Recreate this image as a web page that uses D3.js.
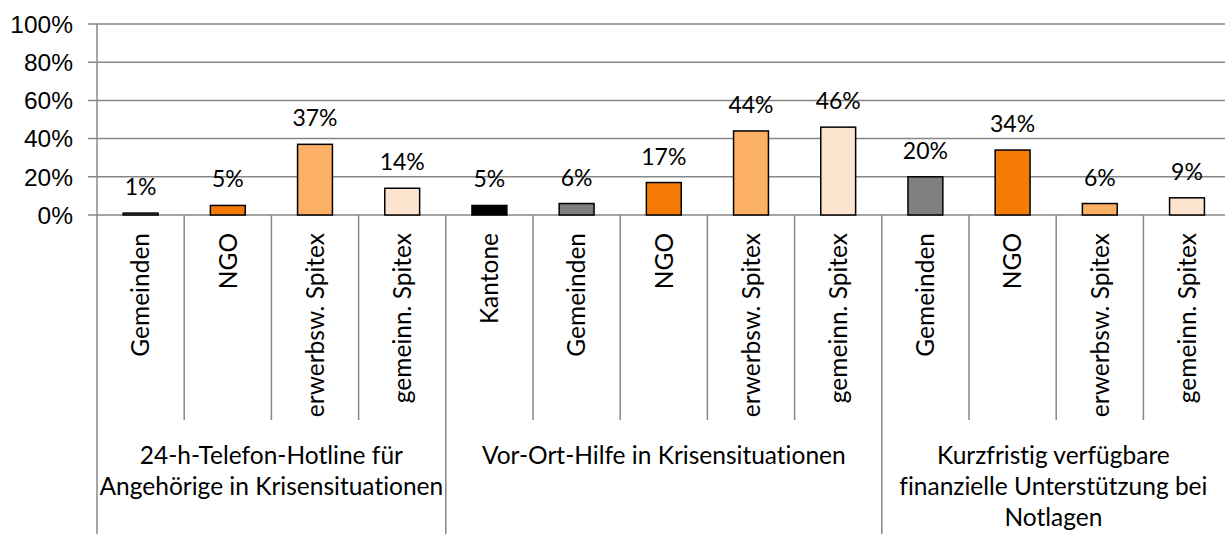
<!DOCTYPE html>
<html>
<head>
<meta charset="utf-8">
<script src="https://cdn.jsdelivr.net/npm/d3@7"></script>
<style>
  body { margin: 0; background: #fff; }
  svg { display: block; }
  text { font-variant-ligatures: none; }
</style>
</head>
<body>
<div id="chart"></div>
<script>
// Data
const groupLabels = [
    ["24-h-Telefon-Hotline für", "Angehörige in Krisensituationen"],
    ["Vor-Ort-Hilfe in Krisensituationen"],
    ["Kurzfristig verfügbare", "finanzielle Unterstützung bei", "Notlagen"]
];
const categories = ["Gemeinden", "NGO", "erwerbsw. Spitex", "gemeinn. Spitex",
    "Kantone", "Gemeinden", "NGO", "erwerbsw. Spitex", "gemeinn. Spitex",
    "Gemeinden", "NGO", "erwerbsw. Spitex", "gemeinn. Spitex"];
const groupOf = [0, 0, 0, 0, 1, 1, 1, 1, 1, 2, 2, 2, 2];
const values = [1, 5, 37, 14, 5, 6, 17, 44, 46, 20, 34, 6, 9];
const yTicks = [0, 20, 40, 60, 80, 100];

const colorByType = {
    "Kantone": "#000000",
    "Gemeinden": "#7f7f7f",
    "NGO": "#f57b06",
    "erwerbsw. Spitex": "#fcb066",
    "gemeinn. Spitex": "#fde4cf"
};

const W = 1225, H = 534;
const plotLeft = 97, plotRight = 1230.6, plotTop = 24, plotBase = 215;

const svg = d3.select("#chart")
    .append("svg")
    .attr("width", W)
    .attr("height", H);

const x = d3.scaleBand()
    .domain(d3.range(categories.length))
    .range([plotLeft, plotRight])
    .padding(0);

const y = d3.scaleLinear()
    .domain([0, 100])
    .range([plotBase, plotTop]);

const gridColor = "#878787";

// gridlines + y ticks
svg.append("g")
    .selectAll("line")
    .data(yTicks)
    .enter()
    .append("line")
    .attr("x1", plotLeft - 9)
    .attr("x2", W)
    .attr("y1", d => y(d))
    .attr("y2", d => y(d))
    .attr("stroke", gridColor)
    .attr("stroke-width", 1.5);

svg.append("g")
    .selectAll("text")
    .data(yTicks)
    .enter()
    .append("text")
    .attr("x", 73)
    .attr("y", d => y(d))
    .attr("dy", "0.36em")
    .attr("text-anchor", "end")
    .style("font-family", "'Liberation Sans', Arial, sans-serif")
    .style("font-size", "24.5px")
    .attr("fill", "#000")
    .text(d => d + "%");

// left axis line (runs down through the category area)
svg.append("line")
    .attr("x1", plotLeft).attr("x2", plotLeft)
    .attr("y1", plotTop).attr("y2", H)
    .attr("stroke", gridColor)
    .attr("stroke-width", 1.5);

// category separators
const starts = d3.range(1, categories.length + 1);
svg.append("g")
    .selectAll("line")
    .data(starts)
    .enter()
    .append("line")
    .attr("x1", i => i < categories.length ? x(i) : plotRight)
    .attr("x2", i => i < categories.length ? x(i) : plotRight)
    .attr("y1", plotBase)
    .attr("y2", i => (i === categories.length || groupOf[i] !== groupOf[i - 1]) ? H : 420)
    .attr("stroke", gridColor)
    .attr("stroke-width", 1.5);

// bars
const barW = x.bandwidth() * 0.4;
svg.append("g")
    .selectAll("rect")
    .data(values)
    .enter()
    .append("rect")
    .attr("x", (d, i) => x(i) + (x.bandwidth() - barW) / 2)
    .attr("y", d => y(d))
    .attr("width", barW)
    .attr("height", d => plotBase - y(d))
    .attr("fill", (d, i) => colorByType[categories[i]])
    .attr("stroke", "#000")
    .attr("stroke-width", 1.5);

const labelFont = "Lato, 'Open Sans', sans-serif";

// value labels
svg.append("g")
    .selectAll("text")
    .data(values)
    .enter()
    .append("text")
    .attr("x", (d, i) => x(i) + x.bandwidth() / 2)
    .attr("y", d => y(d) - 18)
    .attr("text-anchor", "middle")
    .style("font-family", labelFont)
    .style("font-size", "23px")
    .attr("fill", "#000")
    .text(d => d + "%");

// category labels (rotated)
svg.append("g")
    .selectAll("text")
    .data(categories)
    .enter()
    .append("text")
    .attr("transform", (d, i) => `translate(${x(i) + x.bandwidth() / 2},233) rotate(-90)`)
    .attr("text-anchor", "end")
    .attr("dy", "0.36em")
    .style("font-family", labelFont)
    .style("font-size", "24.5px")
    .attr("fill", "#000")
    .text(d => d);

// group labels
groupLabels.forEach((lines, g) => {
    const idx = d3.range(categories.length).filter(i => groupOf[i] === g);
    const x0 = x(idx[0]);
    const x1 = Math.min(x(idx[idx.length - 1]) + x.bandwidth(), W);
    svg.append("text")
        .attr("text-anchor", "middle")
        .style("font-family", labelFont)
        .style("font-size", "24.5px")
        .attr("fill", "#000")
        .selectAll("tspan")
        .data(lines)
        .enter()
        .append("tspan")
        .attr("x", (x0 + x1) / 2)
        .attr("y", (d, k) => 464 + k * 31)
        .text(d => d);
});
</script>
</body>
</html>
